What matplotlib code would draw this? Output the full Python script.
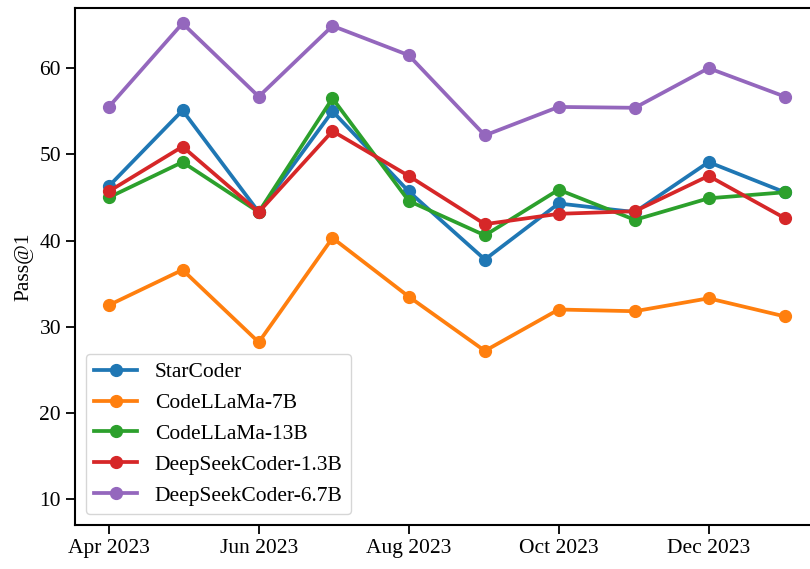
import datetime as dt

import matplotlib
matplotlib.use("Agg")
import matplotlib.dates as mdates
from matplotlib import pyplot as plt

plt.rcParams['font.family'] = ['Liberation Serif', 'DejaVu Serif']
plt.rcParams['mathtext.fontset'] = 'stix'

# Months evaluated (Apr 2023 .. Jan 2024)
months = [(2023, 4), (2023, 5), (2023, 6), (2023, 7), (2023, 8),
          (2023, 9), (2023, 10), (2023, 11), (2023, 12), (2024, 1)]
dates = [dt.date(y, m, 1) for y, m in months]

starcoder = [46.3, 55.1, 43.3, 55.0, 45.7, 37.8, 44.3, 43.3, 49.1, 45.6]
codellama_7b = [32.5, 36.6, 28.2, 40.3, 33.5, 27.2, 32.0, 31.8, 33.3, 31.2]
codellama_13b = [45.0, 49.1, 43.3, 56.5, 44.6, 40.6, 45.9, 42.4, 44.9, 45.6]
deepseek_1_3b = [45.7, 50.9, 43.3, 52.7, 47.5, 41.9, 43.1, 43.4, 47.5, 42.6]
deepseek_6_7b = [55.5, 65.2, 56.7, 64.9, 61.5, 52.2, 55.5, 55.4, 60.0, 56.7]

series = [
    ("StarCoder", starcoder),
    ("CodeLLaMa-7B", codellama_7b),
    ("CodeLLaMa-13B", codellama_13b),
    ("DeepSeekCoder-1.3B", deepseek_1_3b),
    ("DeepSeekCoder-6.7B", deepseek_6_7b),
]

fig = plt.figure(figsize=(8.1, 5.69), dpi=100)
ax = fig.add_axes([0.0926, 0.0773, 0.918, 0.909])

for name, vals in series:
    ax.plot(dates, vals, marker='o', linewidth=2.7, markersize=8.5, label=name)

ax.set_ylim(7, 67)
ax.set_yticks([10, 20, 30, 40, 50, 60])
ax.xaxis.set_major_locator(mdates.MonthLocator(bymonth=[4, 6, 8, 10, 12]))
ax.xaxis.set_major_formatter(mdates.DateFormatter('%b %Y'))
ax.tick_params(labelsize=15.5, width=1.3, length=6.5)
for sp in ax.spines.values():
    sp.set_linewidth(1.5)

ax.set_ylabel('Pass@1', fontsize=15.5)
ax.legend(loc='lower left', fontsize=15.5)

fig.savefig('out.png', dpi=100)
